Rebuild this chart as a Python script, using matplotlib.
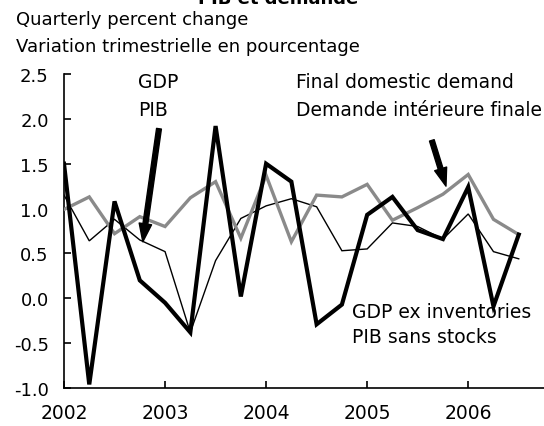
import matplotlib
matplotlib.use("Agg")
import matplotlib.pyplot as plt
import numpy as np

plt.rcParams['font.family'] = ['DejaVu Sans']
plt.rcParams['axes.unicode_minus'] = False

start_year = 2002
n_quarters = 19
gdp = [1.50, -0.96, 1.08, 0.20, -0.05, -0.38, 1.92, 0.02, 1.50, 1.30,
       -0.29, -0.07, 0.93, 1.13, 0.76, 0.66, 1.24, -0.09, 0.71]
final_demand = [0.99, 1.13, 0.72, 0.91, 0.80, 1.12, 1.30, 0.67, 1.37, 0.63,
                1.15, 1.13, 1.27, 0.87, 1.01, 1.16, 1.38, 0.88, 0.71]
gdp_ex_inv = [1.15, 0.64, 0.88, 0.65, 0.52, -0.38, 0.42, 0.89, 1.03, 1.11,
              1.02, 0.53, 0.55, 0.84, 0.80, 0.66, 0.94, 0.52, 0.44]
yticks = [-1.0, -0.5, 0.0, 0.5, 1.0, 1.5, 2.0, 2.5]
xticks = [2002, 2003, 2004, 2005, 2006]

W, H = 544, 427
fig = plt.figure(figsize=(W / 100, H / 100), dpi=100)
ax = fig.add_axes([64 / W, 1 - 389 / H, (W - 64) / W, (389 - 75) / H])

x = start_year + np.arange(n_quarters) * 0.25
ax.plot(x, gdp_ex_inv, color='black', lw=1.0, solid_joinstyle='miter', zorder=2)
ax.plot(x, final_demand, color='#8a8a8a', lw=2.4, solid_joinstyle='miter', zorder=3)
ax.plot(x, gdp, color='black', lw=3.0, solid_joinstyle='miter', zorder=4)

ax.set_xlim(2002, 2006.75)
ax.set_ylim(-1.0, 2.5)
ax.set_yticks(yticks)
ax.set_yticklabels([f"{v:.1f}" for v in yticks])
ax.set_xticks(xticks)
ax.set_xticklabels([str(v) for v in xticks])
for s in ['top', 'right']:
    ax.spines[s].set_visible(False)
for s in ['left', 'bottom']:
    ax.spines[s].set_linewidth(1.2)
ax.tick_params(direction='in', length=5, width=1.2, labelsize=13, colors='black')
ax.tick_params(axis='y', pad=11)
ax.tick_params(axis='x', pad=11, labelsize=13.5)

def fx(px):
    return px / W

def fy(py):
    return 1 - py / H

fs = 13
fa = 13.5
fig.text(fx(278), fy(4), "PIB et demande", fontsize=13, fontweight='bold',
         ha='center', va='baseline')
fig.text(fx(16), fy(20), "Quarterly percent change", fontsize=fs, va='center')
fig.text(fx(16), fy(47), "Variation trimestrielle en pourcentage", fontsize=fs, va='center')

fig.text(fx(138), fy(83), "GDP", fontsize=fa, va='center')
fig.text(fx(138), fy(110), "PIB", fontsize=fa, va='center')
fig.text(fx(296), fy(83), "Final domestic demand", fontsize=fa, va='center')
fig.text(fx(296), fy(110), "Demande intérieure finale", fontsize=fa, va='center')
fig.text(fx(352), fy(313), "GDP ex inventories", fontsize=fa, va='center')
fig.text(fx(352), fy(338), "PIB sans stocks", fontsize=fa, va='center')

arrow = dict(arrowstyle='simple,head_width=0.9,head_length=1.3,tail_width=0.35',
             color='black', shrinkA=0, shrinkB=0, mutation_scale=10)
ax.annotate("", xy=(2002.78, 0.63), xytext=(2002.94, 1.89), arrowprops=arrow, zorder=6)
ax.annotate("", xy=(2005.78, 1.25), xytext=(2005.64, 1.76), arrowprops=arrow, zorder=6)

fig.savefig("out.png", dpi=100)
